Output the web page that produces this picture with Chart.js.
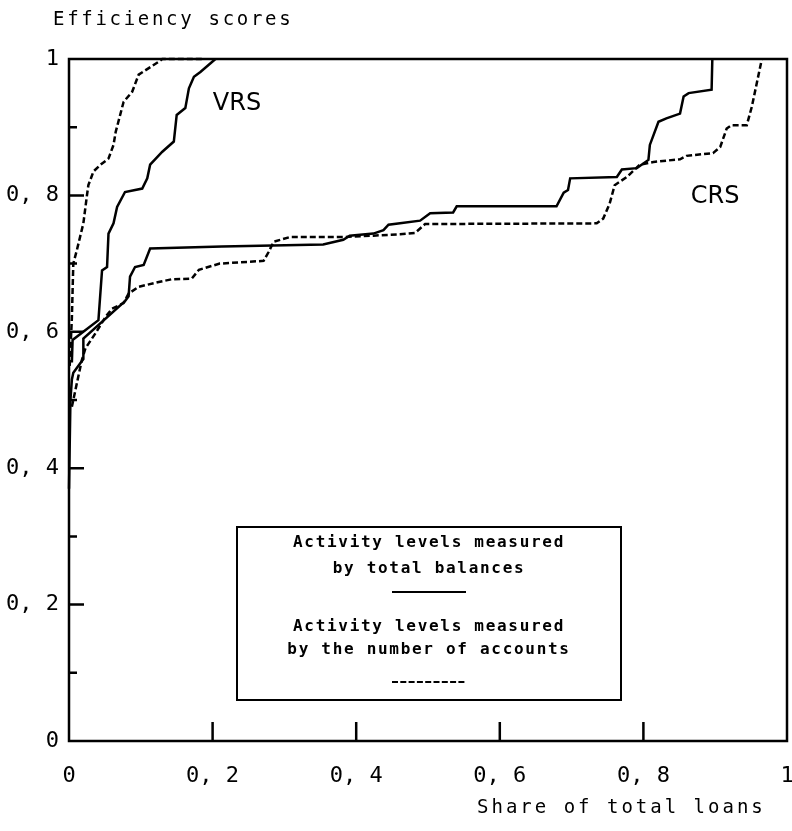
<!DOCTYPE html>
<html lang="en">
<head>
<meta charset="UTF-8" />
<title>Efficiency scores</title>
<script src="https://cdn.jsdelivr.net/npm/chart.js"></script>
<style>
  html, body { margin: 0; padding: 0; background: #fff; }
  #wrap { width: 792px; height: 831px; }
</style>
</head>
<body>
<div id="wrap"><canvas id="eff" width="792" height="831"></canvas></div>
<script>
// share of total loans (x) and efficiency score (y)
const vrsBalX = [0.004, 0.005, 0.041, 0.046, 0.053, 0.055, 0.062, 0.067, 0.078, 0.102, 0.109, 0.113, 0.130, 0.146, 0.150, 0.162, 0.167, 0.174, 0.183, 0.204];
const vrsBalY = [0.555, 0.588, 0.617, 0.690, 0.695, 0.744, 0.759, 0.783, 0.805, 0.810, 0.825, 0.845, 0.864, 0.879, 0.918, 0.928, 0.957, 0.974, 0.981, 1.0];

const vrsAccX = [0.001, 0.004, 0.006, 0.011, 0.020, 0.025, 0.027, 0.034, 0.044, 0.055, 0.062, 0.065, 0.076, 0.088, 0.097, 0.125, 0.130, 0.185];
const vrsAccY = [0.550, 0.620, 0.700, 0.720, 0.759, 0.800, 0.815, 0.835, 0.845, 0.854, 0.874, 0.893, 0.937, 0.952, 0.977, 0.996, 1.0, 1.0];

const crsBalX = [0, 0.002, 0.004, 0.006, 0.020, 0.020, 0.078, 0.083, 0.085, 0.092, 0.104, 0.113, 0.213, 0.354, 0.382, 0.391, 0.424, 0.438, 0.445, 0.461, 0.489, 0.503, 0.535, 0.540, 0.679, 0.689, 0.695, 0.698, 0.763, 0.770, 0.791, 0.807, 0.809, 0.821, 0.832, 0.851, 0.856, 0.863, 0.895, 0.896];
const crsBalY = [0.370, 0.500, 0.530, 0.540, 0.560, 0.590, 0.645, 0.652, 0.681, 0.695, 0.698, 0.722, 0.725, 0.728, 0.735, 0.741, 0.744, 0.749, 0.757, 0.759, 0.763, 0.774, 0.775, 0.784, 0.784, 0.804, 0.808, 0.825, 0.827, 0.838, 0.840, 0.852, 0.874, 0.908, 0.913, 0.920, 0.945, 0.950, 0.955, 1.0];

const crsAccX = [0.004, 0.009, 0.018, 0.023, 0.037, 0.051, 0.060, 0.076, 0.083, 0.097, 0.125, 0.143, 0.171, 0.181, 0.210, 0.271, 0.278, 0.285, 0.308, 0.382, 0.424, 0.461, 0.482, 0.496, 0.735, 0.744, 0.753, 0.760, 0.777, 0.795, 0.814, 0.851, 0.860, 0.897, 0.907, 0.916, 0.923, 0.944, 0.951, 0.965];
const crsAccY = [0.490, 0.515, 0.559, 0.576, 0.598, 0.622, 0.634, 0.642, 0.656, 0.666, 0.673, 0.677, 0.678, 0.691, 0.700, 0.704, 0.717, 0.732, 0.739, 0.739, 0.741, 0.743, 0.745, 0.758, 0.759, 0.766, 0.788, 0.815, 0.827, 0.845, 0.849, 0.853, 0.858, 0.862, 0.871, 0.898, 0.903, 0.903, 0.930, 1.0];

const majorTicks = [0.2, 0.4, 0.6, 0.8];
const minorTicks = [0.1, 0.3, 0.5, 0.7, 0.9];

const legendLines = ['Activity levels measured', 'by total balances', 'Activity levels measured', 'by the number of accounts'];

const MONO = '"DejaVu Sans Mono", monospace';

function pts(xs, ys) {
  return xs.map((x, i) => ({ x: x, y: ys[i] }));
}

function fmt(v) {
  if (v === 0 || v === 1) return String(v);
  return v.toFixed(1).replace('.', ', ');
}

function lineSet(xs, ys, dashed) {
  return {
    data: pts(xs, ys),
    showLine: true,
    borderColor: '#000',
    borderWidth: 2.5,
    borderDash: dashed ? [6, 3] : [],
    pointRadius: 0,
    tension: 0,
    clip: false
  };
}

function spaced(ctx, text, x, y, spacing) {
  ctx.letterSpacing = spacing + 'px';
  ctx.fillText(text, x, y);
  ctx.letterSpacing = '0px';
}

const frame = {
  id: 'frame',
  afterDraw(chart) {
    const ctx = chart.ctx;
    const a = chart.chartArea;
    const sx = chart.scales.x, sy = chart.scales.y;
    ctx.save();
    ctx.strokeStyle = '#000';
    ctx.lineWidth = 2.5;
    ctx.setLineDash([]);
    ctx.strokeRect(a.left, a.top, a.right - a.left, a.bottom - a.top);

    // inward ticks
    ctx.beginPath();
    majorTicks.forEach(v => {
      const py = sy.getPixelForValue(v);
      ctx.moveTo(a.left, py); ctx.lineTo(a.left + 15, py);
      const px = sx.getPixelForValue(v);
      ctx.moveTo(px, a.bottom); ctx.lineTo(px, a.bottom - 19);
    });
    minorTicks.forEach(v => {
      const py = sy.getPixelForValue(v);
      ctx.moveTo(a.left, py); ctx.lineTo(a.left + 8, py);
    });
    ctx.stroke();

    // titles
    ctx.fillStyle = '#000';
    ctx.textBaseline = 'middle';
    ctx.textAlign = 'left';
    ctx.font = '19px ' + MONO;
    spaced(ctx, 'Efficiency scores', 53, 20, 2.7);
    spaced(ctx, 'Share of total loans', 477, 808, 3.0);

    ctx.textAlign = 'center';
    ctx.font = '24px "DejaVu Sans", sans-serif';
    ctx.fillText('VRS', sx.getPixelForValue(0.234), sy.getPixelForValue(0.934));
    ctx.fillText('CRS', sx.getPixelForValue(0.900), sy.getPixelForValue(0.798));

    // legend box
    const bx = 237, by = 527, bw = 384, bh = 173;
    const cx = bx + bw / 2;
    ctx.lineWidth = 2;
    ctx.strokeRect(bx, by, bw, bh);
    ctx.font = 'bold 16px ' + MONO;
    const rows = [543, 569, 627, 650];
    legendLines.forEach((t, i) => spaced(ctx, t, cx, rows[i], 1.7));
    ctx.lineWidth = 2;
    ctx.beginPath();
    ctx.moveTo(cx - 37, 592); ctx.lineTo(cx + 37, 592);
    ctx.stroke();
    ctx.setLineDash([6, 2.3]);
    ctx.beginPath();
    ctx.moveTo(cx - 37, 682); ctx.lineTo(cx + 37, 682);
    ctx.stroke();
    ctx.restore();
  }
};

const tickFont = { family: MONO, size: 22 };

new Chart(document.getElementById('eff'), {
  type: 'scatter',
  data: {
    datasets: [
      lineSet(vrsBalX, vrsBalY, false),
      lineSet(vrsAccX, vrsAccY, true),
      lineSet(crsBalX, crsBalY, false),
      lineSet(crsAccX, crsAccY, true)
    ]
  },
  options: {
    responsive: false,
    animation: false,
    devicePixelRatio: 1,
    layout: { padding: { top: 59, right: 5, left: 0, bottom: 0 } },
    plugins: { legend: { display: false }, tooltip: { enabled: false } },
    scales: {
      x: {
        type: 'linear', min: 0, max: 1,
        grid: { display: false, drawTicks: false },
        border: { display: false },
        ticks: { stepSize: 0.2, callback: fmt, color: '#000', font: tickFont, padding: 22, maxRotation: 0, autoSkip: false },
        afterFit(s) { s.height = 90; s.paddingLeft = 0; s.paddingRight = 5; }
      },
      y: {
        type: 'linear', min: 0, max: 1,
        grid: { display: false, drawTicks: false },
        border: { display: false },
        ticks: { stepSize: 0.2, callback: fmt, color: '#000', font: tickFont, padding: 10, autoSkip: false },
        afterFit(s) { s.width = 69; }
      }
    }
  },
  plugins: [frame]
});
</script>
</body>
</html>
